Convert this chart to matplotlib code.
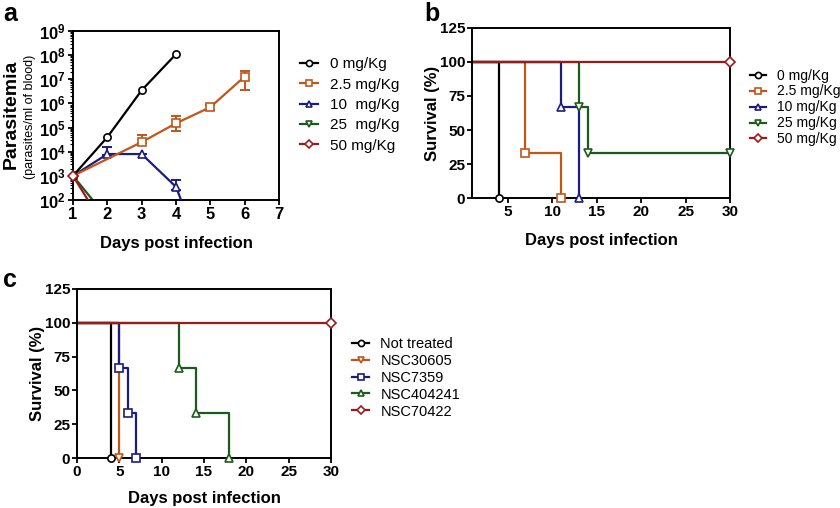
import matplotlib
matplotlib.use("Agg")
import matplotlib.pyplot as plt
import numpy as np
from matplotlib.ticker import LogLocator, NullFormatter, FixedLocator

plt.rcParams['font.family'] = ['Liberation Sans', 'DejaVu Sans']
plt.rcParams['mathtext.fontset'] = 'custom'
plt.rcParams['mathtext.rm'] = 'Liberation Sans:bold'
plt.rcParams['mathtext.bf'] = 'Liberation Sans:bold'
plt.rcParams['mathtext.it'] = 'Liberation Sans:bold'

# ---------------- Panel a data ----------------
dose_labels = ["0 mg/Kg", "2.5 mg/Kg", "10  mg/Kg", "25  mg/Kg", "50 mg/Kg"]
dose_labels_b = ["0 mg/Kg", "2.5 mg/Kg", "10 mg/Kg", "25 mg/Kg", "50 mg/Kg"]
a_days_0 = [1, 2, 3, 4]
a_vals_0 = [1e3, 4e4, 3.5e6, 1.1e8]
a_days_25 = [1, 3, 4, 5, 6]
a_vals_25 = [1e3, 2.5e4, 1.5e5, 7e5, 1.3e7]
a_err_lo_25 = [0, 0.3e4, 0.8e5, 1.5e5, 9.5e6]
a_err_hi_25 = [0, 2.5e4, 1.5e5, 2.0e5, 0.9e7]
a_days_10 = [1, 2, 3, 4, 5]
a_vals_10 = [1e3, 8e3, 8e3, 3.5e2, 0.07]
a_err_lo_10 = [0, 1e3, 0, 1e2, 0]
a_err_hi_10 = [0, 8e3, 0, 3.5e2, 0]
a_days_250 = [1, 2]
a_vals_250 = [1e3, 18]
a_days_50 = [1, 2]
a_vals_50 = [1e3, 5]

# ---------------- Panel b data (survival) ----------------
b_t_0 = [0, 4]
b_s_0 = [100, 0]
b_t_25 = [0, 7, 11]
b_s_25 = [100, 33.3, 0]
b_t_10 = [0, 11, 13]
b_s_10 = [100, 66.7, 0]
b_t_250 = [0, 13, 14, 30]
b_s_250 = [100, 66.7, 33.3, 33.3]
b_t_50 = [0, 30]
b_s_50 = [100, 100]

# ---------------- Panel c data (survival) ----------------
c_labels = ["Not treated", "NSC30605", "NSC7359", "NSC404241", "NSC70422"]
c_t_nt = [0, 4]
c_s_nt = [100, 0]
c_t_306 = [0, 5]
c_s_306 = [100, 0]
c_t_735 = [0, 5, 6, 7]
c_s_735 = [100, 66.7, 33.3, 0]
c_t_404 = [0, 12, 14, 18]
c_s_404 = [100, 66.7, 33.3, 0]
c_t_704 = [0, 30]
c_s_704 = [100, 100]

BLACK = "#000000"
ORANGE = "#c0561a"
BLUE = "#1c1c80"
GREEN = "#1b5a1b"
RED = "#9c1a1a"

W, H = 840, 508
fig = plt.figure(figsize=(8.4, 5.08), dpi=100)

def ax_px(l, t, r, b):
    return fig.add_axes([l / W, 1 - b / H, (r - l) / W, (b - t) / H])

TICKFS = 11
LABFS = 12
lw = 1.6
ms = 5.2
mew = 1.2

def style_ax(ax):
    for s in ax.spines.values():
        s.set_linewidth(1.4)
    ax.tick_params(direction='out', width=1.3, length=3.5, labelsize=TICKFS, pad=1.5)
    for lab in ax.get_xticklabels() + ax.get_yticklabels():
        lab.set_fontweight('bold')

leg_kw = dict(frameon=False, handlelength=1.2, handletextpad=0.75, borderaxespad=0,
              markerscale=0.85)

# ---------------- Panel a ----------------
axa = ax_px(73, 31, 279, 200)
axa.set_yscale('log')
def pa(x, y, c, m, lab, z=2, ylo=None, yhi=None):
    if ylo is not None:
        axa.errorbar(x, y, yerr=[ylo, yhi], fmt='none', ecolor=c, elinewidth=1.4,
                     capsize=3.5, capthick=1.4, zorder=z)
    axa.plot(x, y, color=c, lw=lw, marker=m, ms=ms, mfc='white', mec=c, mew=mew,
             label=lab, zorder=z + 0.5)
pa(a_days_250, a_vals_250, GREEN, 'v', dose_labels[3], z=2)
pa(a_days_50, a_vals_50, RED, 'D', dose_labels[4], z=2.2)
pa(a_days_10, a_vals_10, BLUE, '^', dose_labels[2], z=3, ylo=a_err_lo_10, yhi=a_err_hi_10)
pa(a_days_25, a_vals_25, ORANGE, 's', dose_labels[1], z=4, ylo=a_err_lo_25, yhi=a_err_hi_25)
pa(a_days_0, a_vals_0, BLACK, 'o', dose_labels[0], z=5)
axa.plot([1], [1e3], marker='D', ms=ms, mfc='white', mec=RED, mew=mew, ls='none', zorder=6,
         clip_on=False)
axa.set_xlim(1, 7)
axa.set_ylim(1e2, 1e9)
axa.set_xticks(range(1, 8))
axa.yaxis.set_major_locator(FixedLocator([10.0 ** k for k in range(2, 10)]))
axa.set_yticklabels([r'$10^{%d}$' % k for k in range(2, 10)])
axa.yaxis.set_minor_locator(LogLocator(base=10, subs=np.arange(2, 10), numticks=20))
axa.yaxis.set_minor_formatter(NullFormatter())
style_ax(axa)
axa.tick_params(which='minor', direction='out', length=2, width=0.8)
axa.tick_params(axis='x', labelsize=12)
for lab in axa.get_yticklabels():
    lab.set_fontsize(12)
axa.set_xlabel("Days post infection", fontsize=LABFS, fontweight='bold', labelpad=10)
fig.text(11 / W, 1 - 114 / H, "Parasitemia", rotation=90, ha='center', va='center',
         fontsize=14, fontweight='bold')
fig.text(30 / W, 1 - 117 / H, "(parasites/ml of blood)", rotation=90, ha='center',
         va='center', fontsize=9)
h, l = axa.get_legend_handles_labels()
order = [l.index(x) for x in dose_labels]
fig.legend([h[i] for i in order], [l[i] for i in order], loc='upper left',
           bbox_to_anchor=(294 / W, 1 - 51 / H), fontsize=11, labelspacing=0.42, **leg_kw)

# ---------------- Panel b ----------------
axb = ax_px(472, 28, 730, 198)
def pb(t, s, c, m, lab, z):
    axb.plot(t, s, color=c, lw=lw, drawstyle='steps-post', zorder=z)
    axb.plot(t[1:], s[1:], color=c, lw=0, marker=m, ms=ms, mfc='white', mec=c,
             mew=mew, zorder=z + 5, clip_on=False)
    axb.plot([], [], color=c, lw=lw, marker=m, ms=ms, mfc='white', mec=c, mew=mew, label=lab)
pb(b_t_0, b_s_0, BLACK, 'o', dose_labels_b[0], 2)
pb(b_t_25, b_s_25, ORANGE, 's', dose_labels_b[1], 2.1)
pb(b_t_10, b_s_10, BLUE, '^', dose_labels_b[2], 2.2)
pb(b_t_250, b_s_250, GREEN, 'v', dose_labels_b[3], 2.3)
pb(b_t_50, b_s_50, RED, 'D', dose_labels_b[4], 2.4)
axb.set_xlim(1, 30)
axb.set_ylim(0, 125)
axb.set_xticks([5, 10, 15, 20, 25, 30])
axb.set_yticks([0, 25, 50, 75, 100, 125])
style_ax(axb)
axb.set_xlabel("Days post infection", fontsize=LABFS, fontweight='bold', labelpad=10)
axb.set_ylabel("Survival (%)", fontsize=LABFS, fontweight='bold', labelpad=0)
axb.legend(loc='upper left', bbox_to_anchor=(744 / W, 1 - 63 / H),
           bbox_transform=fig.transFigure, fontsize=10, labelspacing=0.14, **leg_kw)

# ---------------- Panel c ----------------
axc = ax_px(77, 289, 331, 458)
def pc(t, s, c, m, lab, z):
    axc.plot(t, s, color=c, lw=lw, drawstyle='steps-post', zorder=z)
    axc.plot(t[1:], s[1:], color=c, lw=0, marker=m, ms=ms, mfc='white', mec=c,
             mew=mew, zorder=z + 5, clip_on=False)
    axc.plot([], [], color=c, lw=lw, marker=m, ms=ms, mfc='white', mec=c, mew=mew, label=lab)
pc(c_t_nt, c_s_nt, BLACK, 'o', c_labels[0], 2)
pc(c_t_306, c_s_306, ORANGE, 'v', c_labels[1], 2.1)
pc(c_t_735, c_s_735, BLUE, 's', c_labels[2], 2.2)
pc(c_t_404, c_s_404, GREEN, '^', c_labels[3], 2.3)
pc(c_t_704, c_s_704, RED, 'D', c_labels[4], 2.4)
axc.set_xlim(0, 30)
axc.set_ylim(0, 125)
axc.set_xticks([0, 5, 10, 15, 20, 25, 30])
axc.set_yticks([0, 25, 50, 75, 100, 125])
style_ax(axc)
axc.set_xlabel("Days post infection", fontsize=LABFS, fontweight='bold', labelpad=9)
axc.set_ylabel("Survival (%)", fontsize=LABFS, fontweight='bold', labelpad=0)
axc.legend(loc='upper left', bbox_to_anchor=(346 / W, 1 - 331 / H),
           bbox_transform=fig.transFigure, fontsize=10.5, labelspacing=0.2, **leg_kw)

# panel letters
fig.text(3 / W, 1 - 14 / H, "a", fontsize=18, fontweight='bold', va='center')
fig.text(424 / W, 1 - 14 / H, "b", fontsize=18, fontweight='bold', va='center')
fig.text(3 / W, 1 - 280 / H, "c", fontsize=18, fontweight='bold', va='center')

fig.savefig("out.png", dpi=100)
